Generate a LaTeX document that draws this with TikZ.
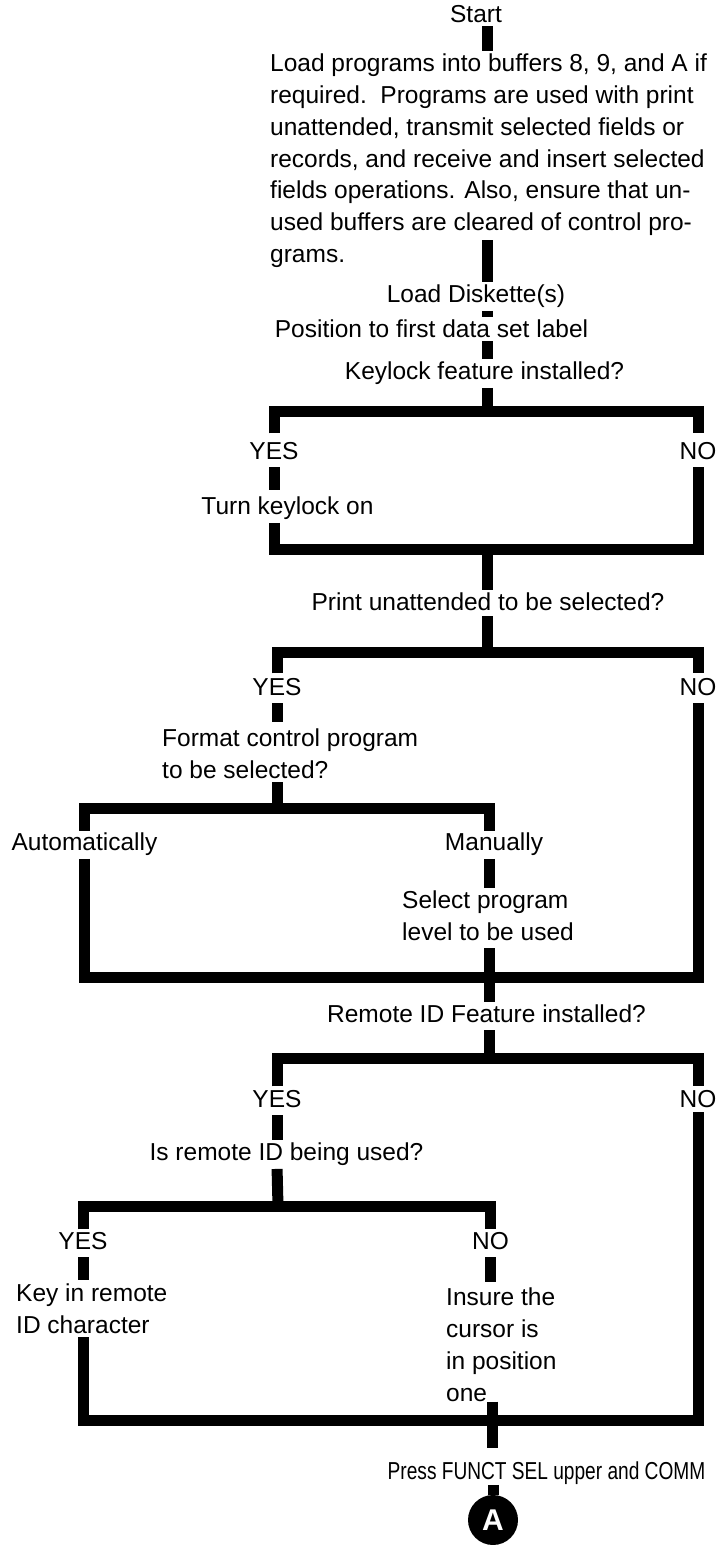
\documentclass[tikz,border=0pt]{standalone}
\usepackage{fontspec}
\setmainfont{Liberation Sans}
\usetikzlibrary{positioning}

\begin{document}
\begin{tikzpicture}[x=1pt,y=1pt,
    every node/.style={font=\fontsize{24.5}{31.7}\selectfont,inner sep=0pt},
    lbl/.style={anchor=mid},
    blk/.style={anchor=north west,align=left},
    flow/.style={line width=11pt,line join=miter},
    gap/.style 2 args={shorten <=#1,shorten >=#2}]
    \useasboundingbox (0,0) rectangle (717,-1545);

    \coordinate (spine) at (487,0);
    \coordinate (kb) at (487,-411);
    \coordinate (km) at (487,-549);
    \coordinate (pb) at (487,-652);
    \coordinate (fb) at (277,-808);
    \coordinate (fm) at (489,-977);
    \coordinate (rb) at (489,-1058);
    \coordinate (ib) at (278,-1206);
    \coordinate (im) at (492,-1420);

    \node[lbl] (start) at (476,-20) {Start};
    \node[blk] (para) at (270,-54) {Load programs into buffers 8, 9, and A if\\
        required.\ \ Programs are used with print\\
        unattended, transmit selected fields or\\
        records, and receive and insert selected\\
        fields operations. Also, ensure that un-\\
        used buffers are cleared of control pro-\\
        grams.};
    \node[lbl] (disk) at (476,-300) {Load Diskette(s)};
    \node[lbl] (pos) at (431.5,-335) {Position to first data set label};
    \node[lbl] (keyq) at (484.5,-377) {Keylock feature installed?};
    \node[lbl] (yes1) at (274,-457) {YES};
    \node[lbl] (no1) at (698,-457) {NO};
    \node[lbl] (turn) at (287.5,-512) {Turn keylock on};
    \node[lbl] (printq) at (488,-608) {Print unattended to be selected?};
    \node[lbl] (yes2) at (277,-693) {YES};
    \node[lbl] (no2) at (698,-693) {NO};
    \node[blk] (fmt) at (162,-729) {Format control program\\to be selected?};
    \node[lbl] (auto) at (84.5,-848) {Automatically};
    \node[lbl] (manual) at (494,-848) {Manually};
    \node[blk] (sel) at (402,-891) {Select program\\level to be used};
    \node[lbl] (remq) at (486.5,-1020) {Remote ID Feature installed?};
    \node[lbl] (yes3) at (277,-1105) {YES};
    \node[lbl] (no3) at (698,-1105) {NO};
    \node[lbl] (isq) at (286.5,-1158) {Is remote ID being used?};
    \node[lbl] (yes4) at (83,-1247) {YES};
    \node[lbl] (no4) at (490.5,-1247) {NO};
    \node[blk] (key) at (16,-1284) {Key in remote\\ID character};
    \node[blk] (ins) at (446,-1288) {Insure the\\cursor is\\in position\\one};
    \node[lbl] (press) at (546.5,-1477) {\scalebox{0.78}[1]{Press FUNCT SEL upper and COMM}};
    \node[circle,fill=black,text=white,minimum size=50pt,
        font=\fontsize{30}{30}\selectfont\bfseries] (a) at (493,-1520) {A};

    \draw[flow,gap={3pt}{3pt}] (start.south -| spine) -- (para.north -| spine);
    \draw[flow,shorten >=3pt] ([yshift=27pt]para.south -| spine) -- (disk.north -| spine);
    \draw[flow,gap={3pt}{3pt}] (disk.south -| spine) -- (pos.north -| spine);
    \draw[flow,gap={3pt}{3pt}] (pos.south -| spine) -- (keyq.north -| spine);
    \draw[flow,shorten <=3pt] (keyq.south -| spine) -- (kb);
    \draw[flow,gap={9pt}{9pt}] (yes1.north) |- (kb) -| (no1.north);
    \draw[flow,gap={7pt}{7pt}] (yes1.south) -- (turn.north -| yes1);
    \draw[flow,gap={3pt}{7pt}] (turn.south -| yes1) |- (km) -| (no1.south);
    \draw[flow,shorten >=3pt] (km) -- (printq.north -| km);
    \draw[flow,shorten <=5pt] (printq.south -| km) -- (pb);
    \draw[flow,gap={5pt}{5pt}] (yes2.north) |- (pb) -| (no2.north);
    \draw[flow,gap={7pt}{7pt}] (yes2.south) -- (fmt.north -| yes2);
    \draw[flow,shorten <=3pt] (fmt.south -| yes2) -- (fb);
    \draw[flow,gap={2pt}{2pt}] (auto.north) |- (fb) -| (manual.north -| fm);
    \draw[flow,gap={3pt}{3pt}] (manual.south -| fm) -- (sel.north -| fm);
    \draw[flow,gap={7pt}{3pt}] (sel.south -| fm) -- (remq.north -| fm);
    \draw[flow,gap={3pt}{7pt}] (auto.south) |- (fm) -| (no2.south);
    \draw[flow,shorten <=7pt] (remq.south -| rb) -- (rb);
    \draw[flow,gap={4pt}{4pt}] (yes3.north) |- (rb) -| (no3.north);
    \draw[flow,gap={7pt}{3pt}] (yes3.south) -- (isq.north -| yes3);
    \draw[flow,shorten <=3pt] (isq.south -| yes3) -- (ib);
    \draw[flow,gap={3pt}{3pt}] (yes4.north) |- (ib) -| (no4.north);
    \draw[flow,gap={7pt}{4pt}] (yes4.south) -- (key.north -| yes4);
    \draw[flow,gap={7pt}{6pt}] (no4.south) -- (ins.north -| no4);
    \draw[flow,gap={3pt}{4pt}] (key.south -| yes4) |- (im) -| (no3.south);
    \draw[flow,gap={0pt}{14pt}] (ins.south -| im) -- (press.north -| im);
    \draw[flow] (press.south -| a) -- (a.north);
\end{tikzpicture}
\end{document}
